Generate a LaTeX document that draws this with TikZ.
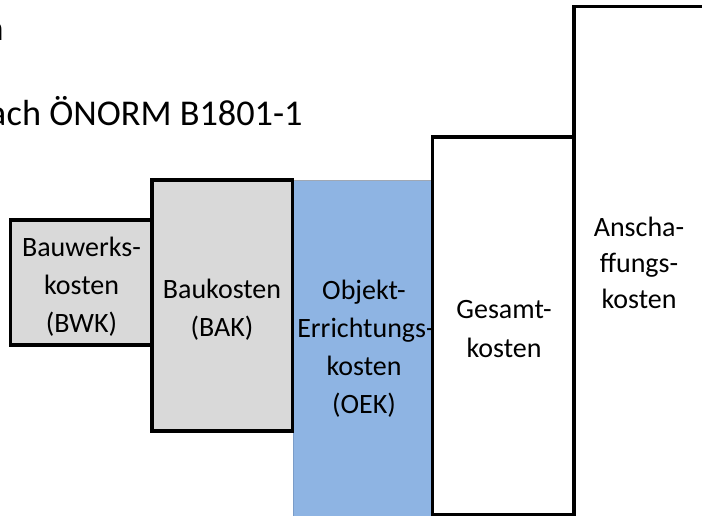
\documentclass[tikz,border=0pt]{standalone}
\usepackage{fontspec}
\setmainfont{Carlito}
\definecolor{boxgrey}{HTML}{D9D9D9}
\definecolor{oekblue}{HTML}{8EB4E3}
\definecolor{oekline}{HTML}{7A9CC8}
\definecolor{oektop}{HTML}{A0A8B4}

\begin{document}
\begin{tikzpicture}[x=1pt,y=-1pt,
  costbox/.style={draw=black,line width=3.8pt,inner sep=0pt,outer sep=0pt},
  thinbox/.style={draw=oekline,line width=0.9pt,fill=oekblue,inner sep=0pt,outer sep=0pt},
  lbl/.style={inner sep=0pt,anchor=base,font=\fontsize{28}{33}\selectfont},
  ttl/.style={inner sep=0pt,font=\fontsize{36.3}{43}\selectfont}]
\useasboundingbox (0,0) rectangle (702,515);
\clip (0,0) rectangle (702,515);
\fill[white] (0,0) rectangle (702,515);

% heading, running in from the left margin
\node[ttl,anchor=base east] (head1) at (4,40) {n};
\node[ttl,anchor=base east] (head2a) at (6.5,125) {na};
\node[ttl,anchor=base west] (head2b) at (6.5,125) {ch ÖNORM B1801-1};

% cost levels, from the narrowest to the widest
\node[thinbox,minimum width=139pt,minimum height=350pt] (oek) at (363,355) {};
\draw[oektop,line width=0.9pt] (oek.north west) -- (oek.north east);
\node[costbox,fill=boxgrey,minimum width=141.5pt,minimum height=125pt] (bwk) at (81.25,282.5) {};
\node[costbox,fill=boxgrey,minimum width=140.5pt,minimum height=251pt] (bak) at (222.25,305.5) {};
\node[costbox,fill=white,minimum width=141.5pt,minimum height=378pt] (gk) at (503.25,326) {};
\node[costbox,fill=white,minimum width=138pt,minimum height=523.5pt] (ak) at (643,268.25) {};

% labels
\node[lbl] (bwk1) at (81.5,256) {Bauwerks-};
\node[lbl] (bwk2) at (81.5,294) {kosten};
\node[lbl] (bwk3) at (81.5,332) {(BWK)};

\node[lbl] (bak1) at (222,298) {Baukosten};
\node[lbl] (bak2) at (222,336) {(BAK)};

\node[lbl] (oek1) at (364,299) {Objekt-};
\node[lbl] (oek2) at (366,337) {Errichtungs-};
\node[lbl] (oek3) at (364,375) {kosten};
\node[lbl] (oek4) at (364,413) {(OEK)};

\node[lbl] (gk1) at (504,318) {Gesamt-};
\node[lbl] (gk2) at (504,357) {kosten};

\node[lbl] (ak1) at (639,236) {Anscha-};
\node[lbl] (ak2) at (639,272) {ffungs-};
\node[lbl] (ak3) at (639,308) {kosten};
\end{tikzpicture}
\end{document}
